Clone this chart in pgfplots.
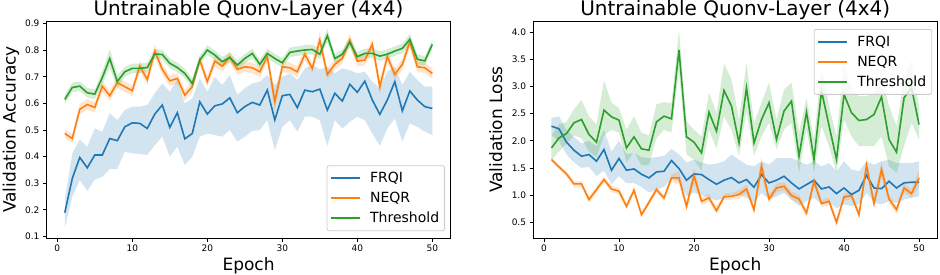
\documentclass[border=0pt]{standalone}
\usepackage{fontspec}
\setmainfont{DejaVu Sans}
\usepackage{pgfplots}
\pgfplotsset{compat=1.18}
\usepackage{pgfplotstable}
\usepgfplotslibrary{fillbetween}
\definecolor{tabblue}{HTML}{1F77B4}
\definecolor{taborange}{HTML}{FF7F0E}
\definecolor{tabgreen}{HTML}{2CA02C}

\pgfplotstableread{
x m lo hi
1 0.189 0.130 0.237
2 0.318 0.249 0.412
3 0.397 0.312 0.465
4 0.358 0.271 0.437
5 0.406 0.314 0.506
6 0.406 0.324 0.494
7 0.468 0.354 0.563
8 0.460 0.354 0.537
9 0.512 0.418 0.575
10 0.527 0.412 0.588
11 0.525 0.410 0.588
12 0.506 0.406 0.594
13 0.560 0.443 0.638
14 0.594 0.475 0.675
15 0.510 0.400 0.644
16 0.565 0.437 0.688
17 0.467 0.368 0.600
18 0.487 0.400 0.619
19 0.606 0.475 0.694
20 0.560 0.487 0.644
21 0.591 0.481 0.700
22 0.598 0.475 0.669
23 0.621 0.500 0.707
24 0.565 0.456 0.632
25 0.588 0.475 0.657
26 0.604 0.497 0.675
27 0.594 0.500 0.682
28 0.650 0.537 0.707
29 0.538 0.425 0.669
30 0.629 0.512 0.700
31 0.634 0.537 0.713
32 0.584 0.494 0.688
33 0.650 0.550 0.732
34 0.644 0.550 0.744
35 0.654 0.537 0.728
36 0.575 0.440 0.738
37 0.638 0.537 0.713
38 0.609 0.506 0.732
39 0.672 0.531 0.725
40 0.642 0.550 0.713
41 0.684 0.537 0.719
42 0.613 0.487 0.682
43 0.559 0.440 0.657
44 0.613 0.506 0.719
45 0.682 0.544 0.738
46 0.572 0.456 0.669
47 0.647 0.525 0.719
48 0.613 0.512 0.688
49 0.588 0.494 0.663
50 0.581 0.481 0.663
}\accF

\pgfplotstableread{
x m lo hi
1 0.487 0.472 0.502
2 0.468 0.450 0.486
3 0.578 0.558 0.598
4 0.596 0.576 0.616
5 0.585 0.565 0.605
6 0.665 0.645 0.685
7 0.629 0.609 0.649
8 0.678 0.658 0.698
9 0.663 0.643 0.683
10 0.648 0.628 0.668
11 0.740 0.720 0.760
12 0.690 0.670 0.710
13 0.797 0.772 0.822
14 0.728 0.708 0.748
15 0.685 0.665 0.705
16 0.694 0.674 0.714
17 0.631 0.611 0.651
18 0.663 0.643 0.683
19 0.763 0.743 0.783
20 0.682 0.662 0.702
21 0.759 0.739 0.779
22 0.740 0.720 0.760
23 0.775 0.755 0.795
24 0.728 0.708 0.748
25 0.738 0.718 0.758
26 0.734 0.714 0.754
27 0.719 0.699 0.739
28 0.776 0.756 0.796
29 0.607 0.567 0.647
30 0.738 0.718 0.758
31 0.734 0.714 0.754
32 0.719 0.699 0.739
33 0.785 0.765 0.805
34 0.732 0.712 0.752
35 0.838 0.808 0.868
36 0.709 0.689 0.729
37 0.747 0.727 0.767
38 0.769 0.749 0.789
39 0.838 0.813 0.863
40 0.759 0.739 0.779
41 0.763 0.743 0.783
42 0.822 0.802 0.842
43 0.663 0.633 0.693
44 0.776 0.756 0.796
45 0.709 0.689 0.729
46 0.747 0.727 0.767
47 0.832 0.807 0.857
48 0.738 0.718 0.758
49 0.734 0.714 0.754
50 0.713 0.693 0.733
}\accN

\pgfplotstableread{
x m lo hi
1 0.615 0.597 0.633
2 0.660 0.642 0.678
3 0.665 0.647 0.683
4 0.640 0.622 0.658
5 0.635 0.617 0.653
6 0.697 0.672 0.722
7 0.769 0.734 0.804
8 0.682 0.657 0.707
9 0.719 0.701 0.737
10 0.732 0.714 0.750
11 0.732 0.714 0.750
12 0.735 0.717 0.753
13 0.786 0.768 0.804
14 0.784 0.766 0.802
15 0.751 0.733 0.769
16 0.735 0.717 0.753
17 0.713 0.695 0.731
18 0.675 0.657 0.693
19 0.763 0.745 0.781
20 0.801 0.783 0.819
21 0.782 0.764 0.800
22 0.757 0.739 0.775
23 0.773 0.755 0.791
24 0.744 0.726 0.762
25 0.769 0.751 0.787
26 0.788 0.770 0.806
27 0.747 0.729 0.765
28 0.788 0.770 0.806
29 0.769 0.751 0.787
30 0.753 0.735 0.771
31 0.792 0.774 0.810
32 0.797 0.779 0.815
33 0.801 0.783 0.819
34 0.803 0.785 0.821
35 0.785 0.767 0.803
36 0.855 0.830 0.880
37 0.769 0.751 0.787
38 0.785 0.767 0.803
39 0.830 0.812 0.848
40 0.776 0.758 0.794
41 0.788 0.770 0.806
42 0.788 0.770 0.806
43 0.778 0.760 0.796
44 0.785 0.767 0.803
45 0.797 0.779 0.815
46 0.807 0.789 0.825
47 0.841 0.821 0.861
48 0.766 0.748 0.784
49 0.760 0.742 0.778
50 0.822 0.804 0.840
}\accT

\pgfplotstableread{
x m lo hi
1 2.268 2.10 2.42
2 2.219 2.00 2.45
3 1.974 1.75 2.20
4 1.826 1.60 2.07
5 1.716 1.50 1.95
6 1.746 1.52 2.00
7 1.624 1.35 1.90
8 1.839 1.45 2.20
9 1.458 1.20 1.80
10 1.673 1.35 2.00
11 1.458 1.22 1.75
12 1.482 1.22 1.78
13 1.384 1.15 1.70
14 1.317 1.05 1.68
15 1.427 1.10 1.70
16 1.439 1.15 1.72
17 1.636 1.30 1.85
18 1.489 1.25 1.75
19 1.274 0.98 1.60
20 1.390 1.05 1.65
21 1.378 1.00 1.60
22 1.286 0.95 1.56
23 1.200 0.90 1.58
24 1.274 0.95 1.62
25 1.323 1.01 1.75
26 1.225 1.01 1.65
27 1.286 0.95 1.56
28 1.145 0.86 1.53
29 1.378 1.04 1.62
30 1.225 0.92 1.56
31 1.274 0.98 1.68
32 1.347 1.04 1.68
33 1.225 0.92 1.68
34 1.114 0.80 1.62
35 1.194 0.89 1.56
36 1.274 0.95 1.62
37 1.114 0.83 1.53
38 1.151 0.86 1.59
39 1.028 0.76 1.44
40 1.132 0.83 1.62
41 1.010 0.80 1.47
42 1.090 0.83 1.44
43 1.366 1.04 1.62
44 1.132 0.86 1.56
45 1.120 0.83 1.62
46 1.255 0.89 1.65
47 1.132 0.86 1.59
48 1.225 0.92 1.59
49 1.237 0.95 1.59
50 1.237 0.98 1.62
}\lossF

\pgfplotstableread{
x m lo hi
1 1.654 1.624 1.684
2 1.519 1.479 1.559
3 1.390 1.340 1.440
4 1.206 1.156 1.256
5 1.206 1.156 1.256
6 0.918 0.858 0.978
7 1.102 1.042 1.162
8 1.286 1.226 1.346
9 1.114 1.054 1.174
10 1.071 1.011 1.131
11 0.795 0.735 0.855
12 1.089 1.029 1.149
13 0.641 0.591 0.691
14 0.868 0.808 0.928
15 1.102 1.042 1.162
16 0.948 0.888 1.008
17 1.317 1.247 1.387
18 1.317 1.197 1.437
19 0.795 0.715 0.875
20 1.360 1.210 1.510
21 0.887 0.817 0.957
22 0.948 0.878 1.018
23 0.715 0.645 0.785
24 0.967 0.907 1.027
25 0.979 0.919 1.039
26 1.010 0.930 1.090
27 1.114 1.034 1.194
28 0.733 0.653 0.813
29 1.532 1.352 1.712
30 0.930 0.850 1.010
31 1.132 1.052 1.212
32 1.163 1.083 1.243
33 0.991 0.911 1.071
34 0.930 0.850 1.010
35 0.672 0.592 0.752
36 1.255 1.155 1.355
37 0.844 0.774 0.914
38 0.887 0.817 0.957
39 0.500 0.420 0.580
40 0.967 0.897 1.037
41 0.991 0.921 1.061
42 0.641 0.561 0.721
43 1.544 1.394 1.694
44 0.844 0.764 0.924
45 1.470 1.320 1.620
46 0.930 0.850 1.010
47 0.733 0.653 0.813
48 1.132 1.052 1.212
49 1.028 0.948 1.108
50 1.317 1.167 1.467
}\lossN

\pgfplotstableread{
x m lo hi
1 1.869 1.65 2.10
2 2.053 1.80 2.30
3 2.133 1.95 2.35
4 2.330 2.10 2.58
5 2.391 2.05 2.75
6 2.115 1.80 2.45
7 1.974 1.70 2.30
8 2.563 2.10 3.11
9 2.440 2.20 2.70
10 2.379 2.15 2.60
11 1.869 1.60 2.20
12 2.072 1.80 2.45
13 1.851 1.55 2.15
14 1.826 1.55 2.10
15 2.348 2.05 2.67
16 2.453 2.20 2.71
17 2.403 2.15 2.69
18 3.668 3.30 4.04
19 2.072 1.75 2.36
20 1.974 1.65 2.20
21 1.777 1.45 2.08
22 2.526 2.20 2.88
23 2.176 1.85 2.51
24 2.925 2.45 3.42
25 2.637 2.20 3.13
26 1.961 1.72 2.39
27 2.975 2.55 3.44
28 1.961 1.72 2.33
29 2.391 2.08 2.70
30 2.698 2.33 3.07
31 2.023 1.84 2.39
32 2.545 2.21 2.94
33 2.729 2.33 3.07
34 1.716 1.41 2.15
35 2.526 2.21 2.79
36 1.655 1.41 2.02
37 2.913 2.27 3.37
38 2.281 1.90 2.64
39 1.655 1.41 2.08
40 2.852 2.39 3.41
41 2.514 2.08 2.94
42 2.373 1.90 2.82
43 2.391 1.90 2.82
44 2.483 1.90 2.88
45 2.809 2.08 3.19
46 2.023 1.53 2.64
47 1.790 1.41 2.27
48 2.790 1.90 3.13
49 2.975 2.33 3.47
50 2.299 2.02 2.64
}\lossT

\pgfplotsset{
  myaxis/.style={
    scale only axis, width=404.3pt, height=217pt, anchor=south west,
    xmin=-1.45, xmax=52.45, xtick={0,10,20,30,40,50},
    axis line style={line width=0.8pt, black},
    tick align=outside, tick pos=left, major tick length=3.5pt,
    every tick/.style={black, line width=0.8pt},
    ticklabel style={font=\fontsize{9}{10}\selectfont},
    /pgf/number format/assume math mode=true,
    every axis title/.style={font=\fontsize{20}{24}\selectfont, at={(axis description cs:0.5,1.0235)}, anchor=base},
    xlabel style={font=\fontsize{17}{20}\selectfont, at={(axis description cs:0.5,-0.1475)}, anchor=base},
    ylabel style={font=\fontsize{17}{20}\selectfont, at={(axis description cs:-0.0764,0.5)}, anchor=base},
    legend cell align=left,
    legend image code/.code={\draw[#1] (0pt,0pt) -- (29pt,0pt);},
    legend style={font=\fontsize{14}{16}\selectfont, draw=black!20, rounded corners=2pt,
      fill=white, fill opacity=0.8, text opacity=1, line width=0.8pt,
      row sep=4pt, inner xsep=3.5pt, inner ysep=4.5pt,
      /tikz/every odd column/.append style={column sep=7pt}},
  },
  band/.style={draw=none, fill=#1, fill opacity=0.2, forget plot},
  mline/.style={#1, line width=1.6pt, mark=none},
}

\begin{document}
\begin{tikzpicture}
% ---------- left ----------
\begin{axis}[myaxis, at={(46.4pt,36pt)},
  ymin=0.094, ymax=0.91, ytick={0.1,0.2,0.3,0.4,0.5,0.6,0.7,0.8,0.9},
  yticklabel style={/pgf/number format/.cd, fixed, fixed zerofill, precision=1},
  title={Untrainable Quonv-Layer (4x4)}, xlabel={Epoch}, ylabel={Validation Accuracy},
  legend style={at={(axis description cs:0.986,0.032)}, anchor=south east}]
\addlegendimage{mline=tabblue}\addlegendentry{FRQI}
\addlegendimage{mline=taborange}\addlegendentry{NEQR}
\addlegendimage{mline=tabgreen}\addlegendentry{Threshold}
\addplot[draw=none, mark=none, forget plot, name path=aFl] table[x=x,y=lo]{\accF};
\addplot[draw=none, mark=none, forget plot, name path=aFh] table[x=x,y=hi]{\accF};
\addplot[band=tabblue] fill between[of=aFl and aFh];
\addplot[mline=tabblue, forget plot] table[x=x,y=m]{\accF};
\addplot[draw=none, mark=none, forget plot, name path=aNl] table[x=x,y=lo]{\accN};
\addplot[draw=none, mark=none, forget plot, name path=aNh] table[x=x,y=hi]{\accN};
\addplot[band=taborange] fill between[of=aNl and aNh];
\addplot[mline=taborange, forget plot] table[x=x,y=m]{\accN};
\addplot[draw=none, mark=none, forget plot, name path=aTl] table[x=x,y=lo]{\accT};
\addplot[draw=none, mark=none, forget plot, name path=aTh] table[x=x,y=hi]{\accT};
\addplot[band=tabgreen] fill between[of=aTl and aTh];
\addplot[mline=tabgreen, forget plot] table[x=x,y=m]{\accT};
\end{axis}
% ---------- right ----------
\begin{axis}[myaxis, at={(533.1pt,36pt)},
  ymin=0.2115, ymax=4.2026, ytick={0.5,1.0,1.5,2.0,2.5,3.0,3.5,4.0},
  yticklabel style={/pgf/number format/.cd, fixed, fixed zerofill, precision=1},
  title={Untrainable Quonv-Layer (4x4)}, xlabel={Epoch}, ylabel={Validation Loss},
  legend style={at={(axis description cs:0.987,0.963)}, anchor=north east}]
\addlegendimage{mline=tabblue}\addlegendentry{FRQI}
\addlegendimage{mline=taborange}\addlegendentry{NEQR}
\addlegendimage{mline=tabgreen}\addlegendentry{Threshold}
\addplot[draw=none, mark=none, forget plot, name path=lFl] table[x=x,y=lo]{\lossF};
\addplot[draw=none, mark=none, forget plot, name path=lFh] table[x=x,y=hi]{\lossF};
\addplot[band=tabblue] fill between[of=lFl and lFh];
\addplot[mline=tabblue, forget plot] table[x=x,y=m]{\lossF};
\addplot[draw=none, mark=none, forget plot, name path=lNl] table[x=x,y=lo]{\lossN};
\addplot[draw=none, mark=none, forget plot, name path=lNh] table[x=x,y=hi]{\lossN};
\addplot[band=taborange] fill between[of=lNl and lNh];
\addplot[mline=taborange, forget plot] table[x=x,y=m]{\lossN};
\addplot[draw=none, mark=none, forget plot, name path=lTl] table[x=x,y=lo]{\lossT};
\addplot[draw=none, mark=none, forget plot, name path=lTh] table[x=x,y=hi]{\lossT};
\addplot[band=tabgreen] fill between[of=lTl and lTh];
\addplot[mline=tabgreen, forget plot] table[x=x,y=m]{\lossT};
\end{axis}
\pgfresetboundingbox
\useasboundingbox (0,0) rectangle (940pt,274pt);
\end{tikzpicture}
\end{document}
